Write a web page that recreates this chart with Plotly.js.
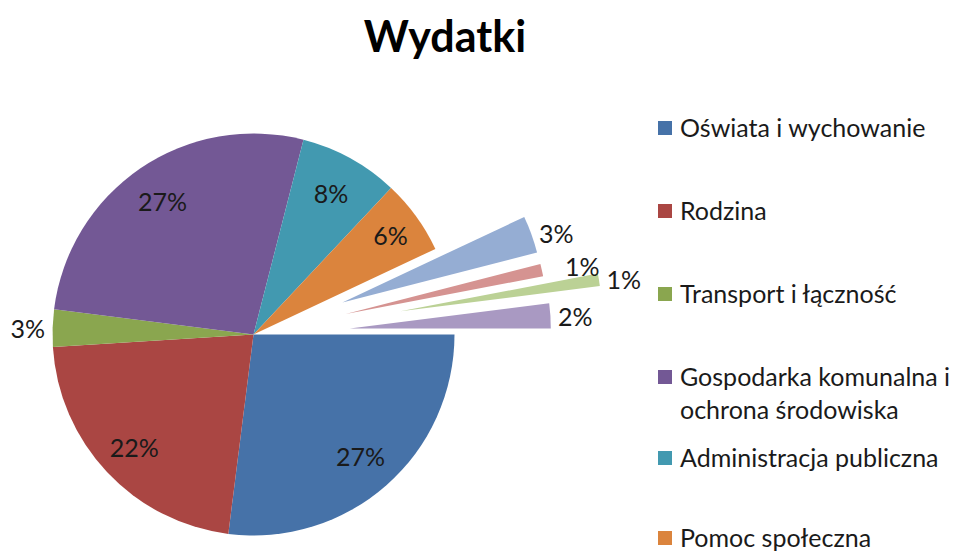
<!DOCTYPE html>
<html>
<head>
<meta charset="utf-8">
<script src="https://cdn.plot.ly/plotly-3.0.1.min.js"></script>
<style>
html, body { margin:0; padding:0; overflow:hidden; background:#fff; width:957px; height:551px; }
#chart { position:absolute; left:-100px; top:-20px; width:1057px; height:720px; }
</style>
</head>
<body>
<div id="chart"></div>
<script>
// ---- data ----
const labels = ["Oświata i wychowanie", "Rodzina", "Transport i łączność",
  "Gospodarka komunalna i ochrona środowiska", "Administracja publiczna", "Pomoc społeczna",
  "Pozostałe 1", "Pozostałe 2", "Pozostałe 3", "Pozostałe 4"];
const values = [27, 22, 3, 27, 8, 6, 3, 1, 1, 2];
const colors = ["#4672A8", "#AA4643", "#8AA64F", "#735895", "#4299B0", "#DB843D",
  "#95ADD3", "#D59391", "#BBD195", "#A999C2"];
const pulls = [0, 0, 0, 0, 0, 0, 0.47, 0.47, 0.74, 0.48];
const textPos = ["inside", "inside", "outside", "inside", "inside", "inside",
  "outside", "outside", "outside", "outside"];
// which layer draws each slice's label:
// 0 = main pie, 1/4 = big-slice labels further out, 2/3 = separate outside labels
const labelLayer = [1, 4, 0, 1, 0, 0, 0, 2, 0, 3];
const labelPull = [0, 0, 0, 0, 0, 0, 0, 0.55, 0, 0.48];
const legendCount = 6; // entries visible in the original legend
const legendLabels = ["Oświata i wychowanie", "Rodzina", "Transport i łączność",
  "Gospodarka komunalna i<br>ochrona środowiska", "Administracja publiczna", "Pomoc społeczna"];
const legendY = [128, 211, 294, 377, 458, 538];

// ---- layout helpers ----
const W = 1057, H = 720, OX = 100, OY = 20;
const FONT = "Lato, 'Open Sans', sans-serif";
const TXT = { family: FONT, size: 25, color: "#1a1a1a" };
const R = 201;
const px = x => (x + OX) / W;
const py = y => 1 - (y + OY) / H;
const CX = 253.5 + OX, CY = 334.5 + OY;   // pie centre inside the div
const box = (half) => ({ x: [(CX - half) / W, (CX + half) / W], y: [(H - CY - half) / H, (H - CY + half) / H] });

const annotations = [];
const shapes = [];
for (let i = 0; i < legendCount; i++) {
  const yc = legendY[i];
  shapes.push({
    type: "rect", xref: "paper", yref: "paper",
    x0: px(658), x1: px(672), y0: py(yc + 7), y1: py(yc - 7),
    fillcolor: colors[i], line: { width: 0 }
  });
  annotations.push({
    xref: "paper", yref: "paper", x: px(678), y: py(yc - 18),
    xanchor: "left", yanchor: "top", align: "left", showarrow: false,
    text: legendLabels[i], font: TXT
  });
}

const pctT = "%{percent:.0%}";
const clear = colors.map(() => "rgba(0,0,0,0)");

function pie(extra) {
  return Object.assign({
    type: "pie", labels: labels, values: values, sort: false,
    direction: "clockwise", rotation: 90,
    insidetextorientation: "horizontal",
    textfont: TXT, outsidetextfont: TXT,
    showlegend: false
  }, extra);
}
function layerText(layer) {
  return {
    texttemplate: labelLayer.map(l => l === layer ? pctT : ""),
    textposition: labelLayer.map((l, i) => l === layer ? textPos[i] : "none")
  };
}

const traces = [];
// the visible pie
traces.push(pie(Object.assign({
  pull: pulls,
  marker: { colors: colors, line: { width: 0 } },
  hoverinfo: "label+percent",
  domain: box(R * (1 + Math.max(...pulls)))
}, layerText(0))));

// transparent companion pies: place the labels of the big slices further out
[[1, 283], [4, 268]].forEach(([layer, half]) => {
  traces.push(pie(Object.assign({
    marker: { colors: clear, line: { width: 0 } },
    hoverinfo: "skip",
    domain: box(half)
  }, layerText(layer))));
});

// transparent companions: one outside label each, so they are not pushed apart
[2, 3].forEach(layer => {
  const p = labelLayer.map((l, i) => l === layer ? labelPull[i] : 0);
  traces.push(pie(Object.assign({
    pull: p,
    marker: { colors: clear, line: { width: 0 } },
    hoverinfo: "skip",
    domain: box(R * (1 + Math.max(...p)))
  }, layerText(layer))));
});

const layout = {
  width: W, height: H, autosize: false,
  margin: { l: 0, r: 0, t: 0, b: 0 },
  paper_bgcolor: "#fff",
  showlegend: false,
  title: {
    text: "<b>Wydatki</b>", xref: "container", yref: "container",
    x: px(445), xanchor: "center", y: py(37), yanchor: "middle",
    font: { family: FONT, size: 43, color: "#000" }
  },
  annotations: annotations,
  shapes: shapes
};

Plotly.newPlot("chart", traces, layout, { displayModeBar: false, staticPlot: true });
</script>
</body>
</html>
